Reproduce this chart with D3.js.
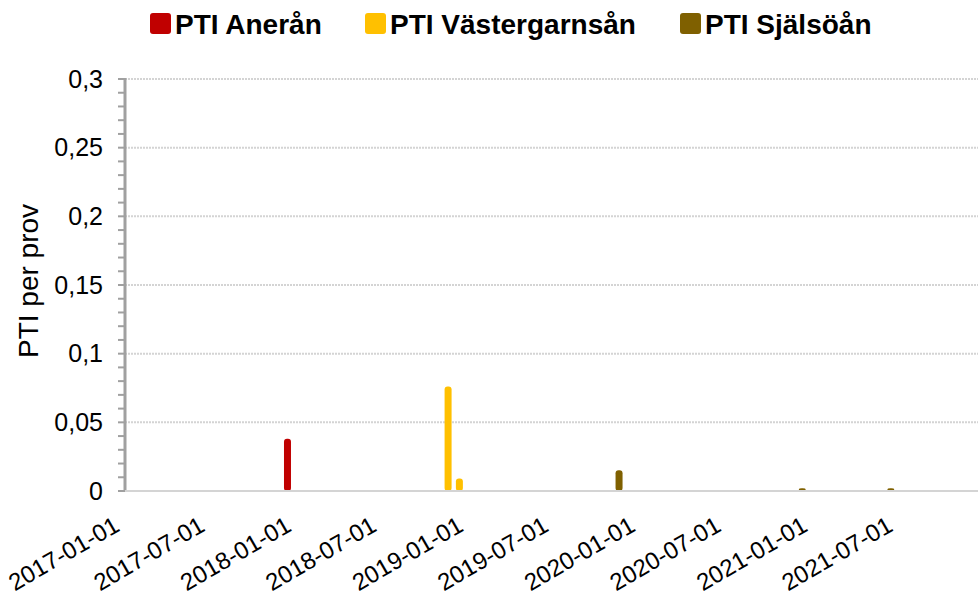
<!DOCTYPE html>
<html><head><meta charset="utf-8">
<script src="https://cdn.jsdelivr.net/npm/d3@7"></script>
<style>body{margin:0;background:#fff}svg{display:block;font-family:"Liberation Sans",Arial,sans-serif}</style>
</head><body>
<script>
const seriesNames = ["PTI Anerån", "PTI Västergarnsån", "PTI Själsöån"];
const seriesColors = ["#C00000", "#FFC000", "#7F6000"];
const aneranDates = ["2017-12-12"];
const aneranValues = [0.037];
const vastergarnsanDates = ["2018-11-18", "2018-12-12"];
const vastergarnsanValues = [0.075, 0.008];
const sjalsoanDates = ["2019-11-16", "2020-12-09", "2021-06-15"];
const sjalsoanValues = [0.014, 0.001, 0.001];
const yTicks = [0, 0.05, 0.1, 0.15, 0.2, 0.25, 0.3];
const xTickLabels = ["2017-01-01","2017-07-01","2018-01-01","2018-07-01","2019-01-01","2019-07-01","2020-01-01","2020-07-01","2021-01-01","2021-07-01"];

const W = 978, H = 599;
const mLeft = 125, mTop = 79, mBottom = 491, mRight = 978;
const parse = d3.timeParse("%Y-%m-%d");
const x = d3.scaleTime().domain([parse("2017-01-01"), parse("2022-01-01")]).range([mLeft, 985]);
const y = d3.scaleLinear().domain([0, 0.3]).range([mBottom, mTop]);

const svg = d3.select("body").append("svg").attr("width", W).attr("height", H);

// gridlines
svg.append("g").selectAll("line").data(yTicks).join("line")
  .attr("x1", mLeft).attr("x2", mRight)
  .attr("y1", d => y(d)).attr("y2", d => y(d))
  .attr("stroke", "#d4d4d4").attr("stroke-width", 2).attr("stroke-dasharray", "2,1");

// minor ticks
const minor = d3.range(0, 0.3001, 0.01);
svg.append("g").selectAll("line").data(minor).join("line")
  .attr("x1", mLeft - 7).attr("x2", mLeft)
  .attr("y1", d => y(d)).attr("y2", d => y(d))
  .attr("stroke", "#a0a0a0").attr("stroke-width", 2);

// y axis line
svg.append("line").attr("x1", mLeft).attr("x2", mLeft).attr("y1", mTop - 1).attr("y2", mBottom + 1)
  .attr("stroke", "#a0a0a0").attr("stroke-width", 3);

// y tick labels
svg.append("g").selectAll("text").data(yTicks).join("text")
  .attr("x", 103).attr("y", d => y(d)).attr("dy", "0.35em")
  .attr("text-anchor", "end").attr("font-size", 25).attr("fill", "#000")
  .text(d => d === 0 ? "0" : String(d).replace(".", ","));

// y label
svg.append("text").attr("transform", `translate(38,${(mTop + mBottom) / 2 - 4}) rotate(-90)`)
  .attr("text-anchor", "middle").attr("font-size", 28).text("PTI per prov");

// x tick labels
svg.append("g").selectAll("text").data(xTickLabels).join("text")
  .attr("transform", d => `translate(${x(parse(d)) - 4},${mBottom + 39}) rotate(-30)`)
  .attr("text-anchor", "end").attr("font-size", 24).text(d => d);

// bars
const series = [
  {dates: aneranDates, values: aneranValues},
  {dates: vastergarnsanDates, values: vastergarnsanValues},
  {dates: sjalsoanDates, values: sjalsoanValues}
];
const bw = 7;
series.forEach((s, i) => {
  svg.append("g").selectAll("rect").data(s.dates.map((d, j) => ({d: parse(d), v: s.values[j]}))).join("rect")
    .attr("x", d => x(d.d) - bw / 2).attr("width", bw)
    .attr("y", d => y(d.v) - 1.5).attr("height", d => mBottom - y(d.v) + 1.5)
    .attr("rx", 3).attr("fill", seriesColors[i]);
});

// baseline
svg.append("line").attr("x1", mLeft).attr("x2", mRight).attr("y1", mBottom).attr("y2", mBottom)
  .attr("stroke", "#d4d4d4").attr("stroke-width", 2);

// legend
const legX = [150, 365, 680];
const lg = svg.append("g");
seriesNames.forEach((n, i) => {
  lg.append("rect").attr("x", legX[i]).attr("y", 13).attr("width", 21).attr("height", 21).attr("rx", 3).attr("fill", seriesColors[i]);
  lg.append("text").attr("x", legX[i] + 25).attr("y", 34)
    .attr("font-size", 28).attr("font-weight", "bold").text(n);
});
</script>
</body></html>
